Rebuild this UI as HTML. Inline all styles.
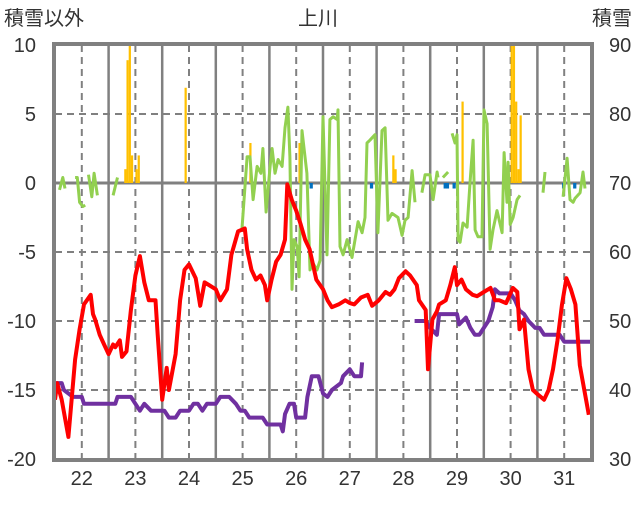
<!DOCTYPE html>
<html><head><meta charset="utf-8"><style>
body{margin:0;background:#fff;}
svg text{font-family:"Liberation Sans","Noto Sans CJK JP",sans-serif;fill:#333;}
</style></head><body>
<svg id="chart" width="636" height="501" viewBox="0 0 636 501" xmlns="http://www.w3.org/2000/svg">
<g id="grid"></g>
<g id="bars"></g>
<g id="lines"></g>
<g id="axes"></g>
<text x="318" y="25" font-size="20" text-anchor="middle">上川</text>
<text x="4" y="25" font-size="20">積雪以外</text>
<text x="632" y="25" font-size="20" text-anchor="end">積雪</text>
</svg>
<script>
const dayLabels=["22","23","24","25","26","27","28","29","30","31"];
const leftTicks=[10,5,0,-5,-10,-15,-20];
const rightTicks=[90,80,70,60,50,40,30];
const tempHours=[0,1,3,6,9,11,13,16,17,18,20,22,24,26,27,29,30,32,34,36,38,40,42,45,46,48,50,51,54,56,58,60,63,65,67,69,72,74,77,79,82,85,86,88,90,92,94,95,97,99,101,103,104,106,108,110,112,114,117,120,122,124,127,130,132,134,137,140,142,145,148,150,152,154,157,159,162,163,166,167,169,171,172,175,177,179,180,182,184,187,189,192,195,197,199,202,205,207,208,210,212,214,216,219,221,223,225,227,229,231,233,235,237,239];
const tempValues=[-15.7,-14.5,-15.7,-18.4,-12.8,-10.6,-8.8,-8.1,-9.5,-9.9,-11.0,-11.7,-12.4,-11.7,-11.9,-11.4,-12.6,-12.2,-9.2,-6.7,-5.3,-7.2,-8.5,-8.5,-11.0,-15.7,-13.4,-15.0,-12.4,-8.5,-6.3,-5.9,-6.9,-8.9,-7.2,-7.4,-7.7,-8.5,-7.7,-5.2,-3.5,-3.3,-4.8,-6.3,-7.0,-6.7,-7.4,-8.5,-7.0,-5.7,-5.2,-4.1,-0.1,-1.2,-2.0,-3.0,-4.1,-4.8,-7.0,-7.7,-8.5,-9.0,-8.8,-8.5,-8.7,-8.8,-8.3,-8.1,-8.9,-8.5,-7.9,-8.1,-7.7,-6.9,-6.4,-6.7,-7.4,-8.5,-9.2,-13.5,-9.9,-9.3,-8.8,-8.5,-7.4,-6.1,-7.4,-7.0,-7.7,-8.1,-8.2,-7.9,-7.6,-8.5,-8.5,-8.7,-7.6,-7.9,-10.6,-9.9,-13.5,-15.0,-15.3,-15.7,-15.0,-13.5,-11.4,-8.8,-6.9,-7.7,-8.8,-13.2,-15.0,-16.8];
const snowHours=[0,3,4,8,12,13,27,28,34,36,38,40,43,49,51,54,56,60,62,64,66,68,72,74,78,81,83,85,87,93,95,101,102,103,105,107,108,112,113,115,118,120,122,124,128,129,132,134,137,137.5,null,161,166,168,171,172,175,180,181,184,186,188,190,192,194,196,197,199,204,206,208,210,212,215,217,219,226,228,240];
const snowValues=[41,41,40,39,39,38,38,39,39,38,37,38,37,37,36,36,37,37,38,38,37,38,38,39,39,38,37,37,36,36,35,35,34,36.5,38,38,36,36,39,42,42,39.5,39,40,41,42,43,42,42,44,null,50,50,49,48,51,51,51,49.5,50.5,49,48,48,49,50,52,54.6,54,54,53,51.5,51,50,49,49,48,48,47,47];
const greenHours=[2,3.5,4.5,null,9,10,11,12.5,13.5,null,15,16.5,17.5,19,null,26,28,null,83.7,86,87.3,88.7,90.5,92.2,93.1,94.5,96.3,97.2,98.5,99.9,101.7,103,104.3,105.2,106.1,107,108.4,109.3,110.6,112.8,114.2,115.5,117.3,118.7,120,121.8,123.1,124.5,126.3,126.7,127.6,129,130.8,133,135.7,137.5,138.8,139.7,141,143.3,144.6,146.4,147.8,149.1,150.9,153.6,155.4,156.7,158.1,159.9,161.2,null,164.3,165.7,167.9,169.3,171.1,171.5,null,173.7,176,null,177.8,179.1,180,180.5,181.4,182.7,184.5,185.8,187.2,188.1,189.4,191.2,192.1,193.5,194.8,196.1,197.9,200.2,201.1,202.4,202.9,203.8,205.1,206.9,208.2,null,218.5,219.4,null,227.5,229.3,230.6,232,232.9,235.1,236.4,237.3];
const greenValues=[-0.5,0.4,-0.4,null,0.4,0.4,-1.4,-1.7,-1.6,null,0.6,-1.0,0.7,-0.9,null,-0.9,0.4,null,-3.4,1.9,1.9,-1.2,1.2,0.7,2.5,-2.1,1.2,2.5,0.7,1.7,1.2,4.0,5.5,1.9,-7.7,-4.1,-4.6,-6.8,3.8,0.7,-6.3,-5.8,-6.3,-5.6,4.8,-5.2,4.6,4.8,4.6,5.3,-4.6,-5.2,-4.1,-5.4,-2.8,-3.6,-2.5,2.9,3.1,3.5,-3.6,3.8,4.0,-2.7,-2.2,-2.5,-3.8,-2.7,-2.5,0.9,-1.4,null,-0.7,0.6,0.6,-1.2,0.8,0.4,null,0.4,0.8,null,3.6,2.9,3.5,-4.1,-4.3,-2.9,-3.2,0,3.1,-3.4,-3.9,-3.9,5.3,4.3,-4.8,-3.4,-2.0,-3.6,2.2,-1.4,1.5,-3.0,-2.5,-1.2,-0.9,null,-0.7,0.8,null,-1.0,1.8,-1.2,-1.4,-1.1,-0.7,0.8,-0.4];
const precipHours=[31,32,33,34,36,37,58,87,109,151,152,182,204,205,206,207,208];
const precipValues=[1.0,8.9,10,2.0,1.0,2.0,6.9,2.9,2.9,2.0,1.0,5.9,10,10,5.9,1.0,4.9];
const negHours=[114,141,174,175,178,227,232];
const negValues=[-0.4,-0.4,-0.4,-0.4,-0.4,-0.4,-0.4];

const NS="http://www.w3.org/2000/svg";
const X0=55,X1=591,YT=45,YB=459;
const xh=h=>X0+h*(X1-X0)/240;
const yl=v=>YT+(10-v)*(YB-YT)/30;
const yr=v=>YT+(90-v)*(YB-YT)/60;
function mk(tag,parent,attrs){const e=document.createElementNS(NS,tag);for(const k in attrs)e.setAttribute(k,attrs[k]);parent.appendChild(e);return e;}
const grid=document.getElementById('grid'),bars=document.getElementById('bars'),lines=document.getElementById('lines'),axes=document.getElementById('axes');
leftTicks.forEach((t,i)=>{
  const y=yl(t);
  if(t!==10&&t!==-20&&t!==0){const g=mk('line',grid,{x1:X0,x2:X1,y1:y,y2:y,stroke:'#808080','stroke-width':2,'stroke-dasharray':'7,5'});
  
  }
  const tx=mk('text',axes,{x:36,y:y+7,'font-size':20,'text-anchor':'end'});tx.textContent=t;
  
  
});
rightTicks.forEach(t=>{
  const tx=mk('text',axes,{x:609,y:yr(t)+7,'font-size':20});tx.textContent=t;
  
  
});
dayLabels.forEach((d,i)=>{
  const xc=xh(i*24+12);
  const dl=mk('line',grid,{x1:xc,x2:xc,y1:YT,y2:YB,stroke:'#808080','stroke-width':2,'stroke-dasharray':'7,5'});
  
  
  if(i>0){const xb=xh(i*24);const sl=mk('line',grid,{x1:xb,x2:xb,y1:YT,y2:YB,stroke:'#808080','stroke-width':2.5});
  
  }
  const tx=mk('text',axes,{x:xc,y:485,'font-size':20,'text-anchor':'middle'});tx.textContent=d;
  
  
});
const zl=mk('line',grid,{x1:X0,x2:X1,y1:yl(0),y2:yl(0),stroke:'#808080','stroke-width':3});


const fr=mk('rect',axes,{x:X0-1,y:YT-1,width:X1-X0+2,height:YB-YT+2,fill:'none',stroke:'#808080','stroke-width':4});


const bw=(X1-X0)/240;
precipHours.forEach((h,i)=>{
  const v=precipValues[i];
  const r=mk('rect',bars,{x:xh(h),y:yl(v),width:bw,height:yl(0)-yl(v),fill:'#FFC000'});
  
  
});
negHours.forEach((h,i)=>{
  const v=negValues[i];
  const r=mk('rect',bars,{x:xh(h),y:yl(0),width:bw+1,height:yl(v)-yl(0),fill:'#0070C0'});
  
  
});
function path(hs,vs,yf){let d='',pen=false;hs.forEach((h,i)=>{if(h===null||vs[i]===null){pen=false;return;}d+=(pen?'L':'M')+xh(h).toFixed(1)+','+yf(vs[i]).toFixed(1);pen=true;});return d;}
const pg=mk('path',lines,{d:path(greenHours,greenValues,yl),fill:'none',stroke:'#92D050','stroke-width':3,'stroke-linejoin':'round'});


const pp=mk('path',lines,{d:path(snowHours,snowValues,yr),fill:'none',stroke:'#7030A0','stroke-width':4,'stroke-linejoin':'round'});


const pr=mk('path',lines,{d:path(tempHours,tempValues,yl),fill:'none',stroke:'#FF0000','stroke-width':4,'stroke-linejoin':'round'});


</script>
</body></html>
